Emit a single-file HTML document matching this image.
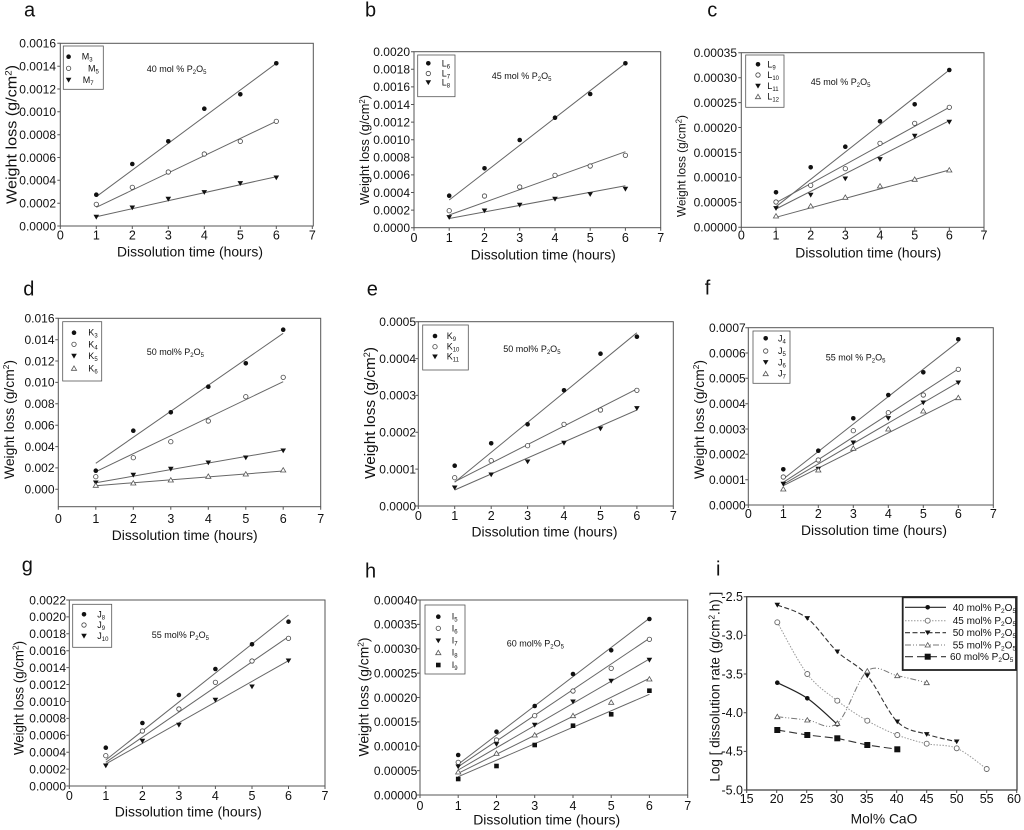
<!DOCTYPE html>
<html><head><meta charset="utf-8"><style>
html,body{margin:0;padding:0;background:#fff;}
svg{display:block;font-family:"Liberation Sans",Arial,sans-serif;}
</style></head><body>
<svg width="1024" height="830" viewBox="0 0 1024 830" xmlns="http://www.w3.org/2000/svg">
<defs>
<circle id="fc" r="2.3" fill="#111"/>
<circle id="oc" r="2.2" fill="#fff" stroke="#444" stroke-width="0.8"/>
<path id="ft" d="M-2.8,-2.2L2.8,-2.2L0,2.6Z" fill="#111"/>
<path id="ot" d="M-2.6,2L2.6,2L0,-2.4Z" fill="#fff" stroke="#555" stroke-width="0.8"/>
<rect id="fs" x="-2.3" y="-2.3" width="4.6" height="4.6" fill="#111"/>
<rect id="fs2" x="-3" y="-3" width="6" height="6" fill="#111"/>
<circle id="oc2" r="2.5" fill="#fff" stroke="#666" stroke-width="0.9"/>
</defs>
<rect width="1024" height="830" fill="#fff"/>

<!-- ===== Panel a ===== -->
<g>
<text x="24" y="16.7" font-size="20" fill="#111">a</text>
<rect x="60.3" y="43.3" width="253" height="182.7" fill="none" stroke="#555" stroke-width="1"/>
<path d="M60.3,226v3M96.3,226v3M132.3,226v3M168.3,226v3M204.3,226v3M240.3,226v3M276.3,226v3M312.3,226v3M57.3,226h3M57.3,203.2h3M57.3,180.3h3M57.3,157.5h3M57.3,134.7h3M57.3,111.8h3M57.3,89h3M57.3,66.2h3M57.3,43.3h3" stroke="#555" stroke-width="1"/>
<g font-size="12" fill="#111" text-anchor="end">
<text x="56" y="230.3">0.0000</text><text x="56" y="207.5">0.0002</text><text x="56" y="184.6">0.0004</text><text x="56" y="161.8">0.0006</text><text x="56" y="139">0.0008</text><text x="56" y="116.1">0.0010</text><text x="56" y="93.3">0.0012</text><text x="56" y="70.5">0.0014</text><text x="56" y="47.6">0.0016</text>
</g>
<g font-size="12.5" fill="#111" text-anchor="middle">
<text x="60.3" y="239.5">0</text><text x="96.3" y="239.5">1</text><text x="132.3" y="239.5">2</text><text x="168.3" y="239.5">3</text><text x="204.3" y="239.5">4</text><text x="240.3" y="239.5">5</text><text x="276.3" y="239.5">6</text><text x="312.3" y="239.5">7</text>
</g>
<text x="190" y="256.7" font-size="14" fill="#111" text-anchor="middle" textLength="146" lengthAdjust="spacingAndGlyphs">Dissolution time (hours)</text>
<text transform="translate(16.3,134.5) rotate(-90)" font-size="15" fill="#111" text-anchor="middle" textLength="139" lengthAdjust="spacingAndGlyphs">Weight loss (g/cm<tspan font-size="9" dy="-5">2</tspan><tspan dy="5">)</tspan></text>
<g stroke="#666" stroke-width="1">
<line x1="96.3" y1="196.7" x2="276.3" y2="63.3"/><line x1="96.3" y1="207.3" x2="276.3" y2="121.3"/><line x1="96.3" y1="216.7" x2="276.3" y2="176.7"/>
</g>
<use href="#fc" x="96.3" y="194.7"/><use href="#fc" x="132.3" y="164"/><use href="#fc" x="168.3" y="141.3"/><use href="#fc" x="204.3" y="108.7"/><use href="#fc" x="240.3" y="94.3"/><use href="#fc" x="276.3" y="63.3"/>
<use href="#oc" x="96.3" y="204.3"/><use href="#oc" x="132.3" y="187.3"/><use href="#oc" x="168.3" y="172"/><use href="#oc" x="204.3" y="154"/><use href="#oc" x="240.3" y="141.3"/><use href="#oc" x="276.3" y="121.3"/>
<use href="#ft" x="96.3" y="217"/><use href="#ft" x="132.3" y="207.7"/><use href="#ft" x="168.3" y="199"/><use href="#ft" x="204.3" y="192.3"/><use href="#ft" x="240.3" y="183.3"/><use href="#ft" x="276.3" y="177.7"/>
<rect x="63.3" y="46" width="40" height="43.3" fill="#fff" stroke="#555" stroke-width="0.8"/>
<use href="#fc" x="68.6" y="56.7"/><use href="#oc" x="68.6" y="68.3"/><use href="#ft" x="68.6" y="80"/>
<g font-size="9" fill="#111">
<text x="81.7" y="59.7">M<tspan font-size="6" dy="2">3</tspan></text>
<text x="88" y="71.3">M<tspan font-size="6" dy="2">5</tspan></text>
<text x="82.7" y="83">M<tspan font-size="6" dy="2">7</tspan></text>
<text x="146.7" y="72">40 mol % P<tspan font-size="6" dy="2">2</tspan><tspan dy="-2">O</tspan><tspan font-size="6" dy="2">5</tspan></text>
</g>
</g>

<!-- ===== Panel b ===== -->
<g>
<text x="365" y="16.7" font-size="20" fill="#111">b</text>
<rect x="414" y="51.7" width="246.7" height="176" fill="none" stroke="#555" stroke-width="1"/>
<path d="M414,227.7v3M449.2,227.7v3M484.5,227.7v3M519.7,227.7v3M555,227.7v3M590.2,227.7v3M625.4,227.7v3M660.7,227.7v3M411,227.7h3M411,210.1h3M411,192.5h3M411,174.9h3M411,157.3h3M411,139.7h3M411,122.1h3M411,104.5h3M411,86.9h3M411,69.3h3M411,51.7h3" stroke="#555" stroke-width="1"/>
<g font-size="12" fill="#111" text-anchor="end">
<text x="410" y="232">0.0000</text><text x="410" y="214.4">0.0002</text><text x="410" y="196.8">0.0004</text><text x="410" y="179.2">0.0006</text><text x="410" y="161.6">0.0008</text><text x="410" y="144">0.0010</text><text x="410" y="126.4">0.0012</text><text x="410" y="108.8">0.0014</text><text x="410" y="91.2">0.0016</text><text x="410" y="73.6">0.0018</text><text x="410" y="56">0.0020</text>
</g>
<g font-size="12.5" fill="#111" text-anchor="middle">
<text x="414" y="242">0</text><text x="449.2" y="242">1</text><text x="484.5" y="242">2</text><text x="519.7" y="242">3</text><text x="555" y="242">4</text><text x="590.2" y="242">5</text><text x="625.4" y="242">6</text><text x="660.7" y="242">7</text>
</g>
<text x="543.3" y="259.5" font-size="14" fill="#111" text-anchor="middle" textLength="145" lengthAdjust="spacingAndGlyphs">Dissolution time (hours)</text>
<text transform="translate(369,150) rotate(-90)" font-size="13" fill="#111" text-anchor="middle" textLength="110" lengthAdjust="spacingAndGlyphs">Weight loss (g/cm<tspan font-size="8" dy="-4">2</tspan><tspan dy="4">)</tspan></text>
<g stroke="#666" stroke-width="1">
<line x1="449.2" y1="200" x2="625.4" y2="63.3"/><line x1="449.2" y1="215" x2="625.4" y2="151.7"/><line x1="449.2" y1="218.5" x2="625.4" y2="185.7"/>
</g>
<use href="#fc" x="449.2" y="195.7"/><use href="#fc" x="484.5" y="168.3"/><use href="#fc" x="519.7" y="140"/><use href="#fc" x="555" y="117.7"/><use href="#fc" x="590.2" y="94"/><use href="#fc" x="625.4" y="63.3"/>
<use href="#oc" x="449.2" y="210.7"/><use href="#oc" x="484.5" y="196"/><use href="#oc" x="519.7" y="187"/><use href="#oc" x="555" y="175.3"/><use href="#oc" x="590.2" y="166"/><use href="#oc" x="625.4" y="155.3"/>
<use href="#ft" x="449.2" y="217.3"/><use href="#ft" x="484.5" y="210.7"/><use href="#ft" x="519.7" y="205"/><use href="#ft" x="555" y="199"/><use href="#ft" x="590.2" y="194.3"/><use href="#ft" x="625.4" y="189"/>
<rect x="417.7" y="55" width="37.3" height="41.7" fill="#fff" stroke="#555" stroke-width="0.8"/>
<use href="#fc" x="428.3" y="63.3"/><use href="#oc" x="428.3" y="73.5"/><use href="#ft" x="428.3" y="82.5"/>
<g font-size="9" fill="#111">
<text x="441.7" y="66.3">L<tspan font-size="6" dy="2">6</tspan></text>
<text x="441.7" y="76.5">L<tspan font-size="6" dy="2">7</tspan></text>
<text x="441.7" y="85.5">L<tspan font-size="6" dy="2">8</tspan></text>
<text x="491.7" y="79">45 mol % P<tspan font-size="6" dy="2">2</tspan><tspan dy="-2">O</tspan><tspan font-size="6" dy="2">5</tspan></text>
</g>
</g>

<!-- ===== Panel c ===== -->
<g>
<text x="707.3" y="16.7" font-size="20" fill="#111">c</text>
<rect x="741.3" y="52.7" width="242.7" height="174.6" fill="none" stroke="#555" stroke-width="1"/>
<path d="M741.3,227.3v3M776,227.3v3M810.7,227.3v3M845.3,227.3v3M880,227.3v3M914.7,227.3v3M949.3,227.3v3M984,227.3v3M738.3,227.3h3M738.3,202.4h3M738.3,177.4h3M738.3,152.5h3M738.3,127.5h3M738.3,102.6h3M738.3,77.7h3M738.3,52.7h3" stroke="#555" stroke-width="1"/>
<g font-size="12" fill="#111" text-anchor="end">
<text x="737" y="231.6">0.00000</text><text x="737" y="206.7">0.00005</text><text x="737" y="181.7">0.00010</text><text x="737" y="156.8">0.00015</text><text x="737" y="131.8">0.00020</text><text x="737" y="106.9">0.00025</text><text x="737" y="82">0.00030</text><text x="737" y="57">0.00035</text>
</g>
<g font-size="12.5" fill="#111" text-anchor="middle">
<text x="741.3" y="239.3">0</text><text x="776" y="239.3">1</text><text x="810.7" y="239.3">2</text><text x="845.3" y="239.3">3</text><text x="880" y="239.3">4</text><text x="914.7" y="239.3">5</text><text x="949.3" y="239.3">6</text><text x="984" y="239.3">7</text>
</g>
<text x="868.3" y="257.3" font-size="14" fill="#111" text-anchor="middle" textLength="146" lengthAdjust="spacingAndGlyphs">Dissolution time (hours)</text>
<text transform="translate(685.5,166) rotate(-90)" font-size="12" fill="#111" text-anchor="middle" textLength="102" lengthAdjust="spacingAndGlyphs">Weight loss (g/cm<tspan font-size="8" dy="-4">2</tspan><tspan dy="4">)</tspan></text>
<g stroke="#666" stroke-width="1">
<line x1="776" y1="206.7" x2="949.3" y2="70"/><line x1="776" y1="202.7" x2="949.3" y2="107.3"/><line x1="776" y1="209" x2="949.3" y2="120.7"/><line x1="776" y1="217.3" x2="949.3" y2="170"/>
</g>
<use href="#fc" x="776" y="192.3"/><use href="#fc" x="810.7" y="167.3"/><use href="#fc" x="845.3" y="146.7"/><use href="#fc" x="880" y="121.3"/><use href="#fc" x="914.7" y="104.3"/><use href="#fc" x="949.3" y="70"/>
<use href="#oc" x="776" y="202"/><use href="#oc" x="810.7" y="185.3"/><use href="#oc" x="845.3" y="168.7"/><use href="#oc" x="880" y="143.3"/><use href="#oc" x="914.7" y="123.3"/><use href="#oc" x="949.3" y="107.3"/>
<use href="#ft" x="776" y="208.3"/><use href="#ft" x="810.7" y="195"/><use href="#ft" x="845.3" y="178.7"/><use href="#ft" x="880" y="159.3"/><use href="#ft" x="914.7" y="136"/><use href="#ft" x="949.3" y="122"/>
<use href="#ot" x="776" y="216"/><use href="#ot" x="810.7" y="206"/><use href="#ot" x="845.3" y="197.3"/><use href="#ot" x="880" y="186"/><use href="#ot" x="914.7" y="179.3"/><use href="#ot" x="949.3" y="170"/>
<rect x="745.7" y="55" width="38.3" height="52.3" fill="#fff" stroke="#555" stroke-width="0.8"/>
<use href="#fc" x="758" y="64.3"/><use href="#oc" x="758" y="75"/><use href="#ft" x="758" y="86"/><use href="#ot" x="758" y="96.7"/>
<g font-size="9" fill="#111">
<text x="767.3" y="67.3">L<tspan font-size="6" dy="2">9</tspan></text>
<text x="767.3" y="78">L<tspan font-size="6" dy="2">10</tspan></text>
<text x="767.3" y="89">L<tspan font-size="6" dy="2">11</tspan></text>
<text x="767.3" y="99.7">L<tspan font-size="6" dy="2">12</tspan></text>
<text x="810.7" y="85">45 mol % P<tspan font-size="6" dy="2">2</tspan><tspan dy="-2">O</tspan><tspan font-size="6" dy="2">5</tspan></text>
</g>
</g>

<!-- ===== Panel d ===== -->
<g>
<text x="23.3" y="295.7" font-size="20" fill="#111">d</text>
<rect x="58.3" y="318.3" width="262.4" height="188.4" fill="none" stroke="#555" stroke-width="1"/>
<path d="M58.3,506.7v3M95.8,506.7v3M133.3,506.7v3M170.8,506.7v3M208.3,506.7v3M245.8,506.7v3M283.2,506.7v3M320.7,506.7v3M55.3,489.3h3M55.3,467.9h3M55.3,446.6h3M55.3,425.2h3M55.3,403.8h3M55.3,382.4h3M55.3,361h3M55.3,339.7h3M55.3,318.3h3" stroke="#555" stroke-width="1"/>
<g font-size="12" fill="#111" text-anchor="end">
<text x="54.5" y="493.6">0.000</text><text x="54.5" y="472.2">0.002</text><text x="54.5" y="450.9">0.004</text><text x="54.5" y="429.5">0.006</text><text x="54.5" y="408.1">0.008</text><text x="54.5" y="386.7">0.010</text><text x="54.5" y="365.3">0.012</text><text x="54.5" y="344">0.014</text><text x="54.5" y="322.6">0.016</text>
</g>
<g font-size="12.5" fill="#111" text-anchor="middle">
<text x="58.3" y="523">0</text><text x="95.8" y="523">1</text><text x="133.3" y="523">2</text><text x="170.8" y="523">3</text><text x="208.3" y="523">4</text><text x="245.8" y="523">5</text><text x="283.2" y="523">6</text><text x="320.7" y="523">7</text>
</g>
<text x="184.7" y="540" font-size="14" fill="#111" text-anchor="middle" textLength="146" lengthAdjust="spacingAndGlyphs">Dissolution time (hours)</text>
<text transform="translate(14,419.5) rotate(-90)" font-size="14" fill="#111" text-anchor="middle" textLength="119" lengthAdjust="spacingAndGlyphs">Weight loss (g/cm<tspan font-size="8.5" dy="-5">2</tspan><tspan dy="5">)</tspan></text>
<g stroke="#666" stroke-width="1">
<line x1="95.8" y1="463.3" x2="283.2" y2="333.3"/><line x1="95.8" y1="471.7" x2="283.2" y2="381.7"/><line x1="95.8" y1="482.7" x2="283.2" y2="450"/><line x1="95.8" y1="485.7" x2="283.2" y2="471"/>
</g>
<use href="#fc" x="95.8" y="470.7"/><use href="#fc" x="133.3" y="430.7"/><use href="#fc" x="170.8" y="412.3"/><use href="#fc" x="208.3" y="386.7"/><use href="#fc" x="245.8" y="363.3"/><use href="#fc" x="283.2" y="329.7"/>
<use href="#oc" x="95.8" y="476.7"/><use href="#oc" x="133.3" y="457.7"/><use href="#oc" x="170.8" y="441.7"/><use href="#oc" x="208.3" y="421"/><use href="#oc" x="245.8" y="396.7"/><use href="#oc" x="283.2" y="377.3"/>
<use href="#ft" x="95.8" y="482.7"/><use href="#ft" x="133.3" y="475"/><use href="#ft" x="170.8" y="469"/><use href="#ft" x="208.3" y="462.7"/><use href="#ft" x="245.8" y="457.7"/><use href="#ft" x="283.2" y="450.7"/>
<use href="#ot" x="95.8" y="485.3"/><use href="#ot" x="133.3" y="483"/><use href="#ot" x="170.8" y="480"/><use href="#ot" x="208.3" y="476.3"/><use href="#ot" x="245.8" y="474"/><use href="#ot" x="283.2" y="470"/>
<rect x="62.7" y="321.7" width="39" height="59.3" fill="#fff" stroke="#555" stroke-width="0.8"/>
<use href="#fc" x="74" y="332.7"/><use href="#oc" x="74" y="344.3"/><use href="#ft" x="74" y="356"/><use href="#ot" x="74" y="368.3"/>
<g font-size="9" fill="#111">
<text x="88.3" y="335.7">K<tspan font-size="6" dy="2">3</tspan></text>
<text x="88.3" y="347.3">K<tspan font-size="6" dy="2">4</tspan></text>
<text x="88.3" y="359">K<tspan font-size="6" dy="2">5</tspan></text>
<text x="88.3" y="371.3">K<tspan font-size="6" dy="2">6</tspan></text>
<text x="146.7" y="355">50 mol% P<tspan font-size="6" dy="2">2</tspan><tspan dy="-2">O</tspan><tspan font-size="6" dy="2">5</tspan></text>
</g>
</g>

<!-- ===== Panel e ===== -->
<g>
<text x="366.7" y="295.7" font-size="20" fill="#111">e</text>
<rect x="418.3" y="321.7" width="255" height="184.3" fill="none" stroke="#555" stroke-width="1"/>
<path d="M418.3,506v3M454.7,506v3M491.2,506v3M527.6,506v3M564,506v3M600.5,506v3M636.9,506v3M673.3,506v3M415.3,506h3M415.3,469.1h3M415.3,432.3h3M415.3,395.4h3M415.3,358.6h3M415.3,321.7h3" stroke="#555" stroke-width="1"/>
<g font-size="12" fill="#111" text-anchor="end">
<text x="416" y="510.3">0.0000</text><text x="416" y="473.4">0.0001</text><text x="416" y="436.6">0.0002</text><text x="416" y="399.7">0.0003</text><text x="416" y="362.9">0.0004</text><text x="416" y="326">0.0005</text>
</g>
<g font-size="12.5" fill="#111" text-anchor="middle">
<text x="418.3" y="520">0</text><text x="454.7" y="520">1</text><text x="491.2" y="520">2</text><text x="527.6" y="520">3</text><text x="564" y="520">4</text><text x="600.5" y="520">5</text><text x="636.9" y="520">6</text><text x="673.3" y="520">7</text>
</g>
<text x="544.5" y="536.7" font-size="14" fill="#111" text-anchor="middle" textLength="146" lengthAdjust="spacingAndGlyphs">Dissolution time (hours)</text>
<text transform="translate(375,413) rotate(-90)" font-size="15" fill="#111" text-anchor="middle" textLength="132" lengthAdjust="spacingAndGlyphs">Weight loss (g/cm<tspan font-size="9" dy="-5">2</tspan><tspan dy="5">)</tspan></text>
<g stroke="#666" stroke-width="1">
<line x1="454.7" y1="482.3" x2="636.9" y2="332.7"/><line x1="454.7" y1="481.7" x2="636.9" y2="389"/><line x1="454.7" y1="490" x2="636.9" y2="410"/>
</g>
<use href="#fc" x="454.7" y="465.7"/><use href="#fc" x="491.2" y="443.3"/><use href="#fc" x="527.6" y="424.3"/><use href="#fc" x="564" y="390.3"/><use href="#fc" x="600.5" y="353.7"/><use href="#fc" x="636.9" y="336.7"/>
<use href="#oc" x="454.7" y="477.7"/><use href="#oc" x="491.2" y="460.7"/><use href="#oc" x="527.6" y="445.7"/><use href="#oc" x="564" y="424.3"/><use href="#oc" x="600.5" y="410"/><use href="#oc" x="636.9" y="390.3"/>
<use href="#ft" x="454.7" y="487.7"/><use href="#ft" x="491.2" y="474.7"/><use href="#ft" x="527.6" y="461.7"/><use href="#ft" x="564" y="443"/><use href="#ft" x="600.5" y="428.7"/><use href="#ft" x="636.9" y="408.3"/>
<rect x="422.7" y="325" width="45.6" height="45" fill="#fff" stroke="#555" stroke-width="0.8"/>
<use href="#fc" x="435" y="336"/><use href="#oc" x="435" y="346.7"/><use href="#ft" x="435" y="356.7"/>
<g font-size="9" fill="#111">
<text x="446.7" y="339">K<tspan font-size="6" dy="2">9</tspan></text>
<text x="446.7" y="349.7">K<tspan font-size="6" dy="2">10</tspan></text>
<text x="446.7" y="359.7">K<tspan font-size="6" dy="2">11</tspan></text>
<text x="503.3" y="352">50 mol% P<tspan font-size="6" dy="2">2</tspan><tspan dy="-2">O</tspan><tspan font-size="6" dy="2">5</tspan></text>
</g>
</g>

<!-- ===== Panel f ===== -->
<g>
<text x="704.7" y="294.3" font-size="20" fill="#111">f</text>
<rect x="748.3" y="327.7" width="245" height="177.3" fill="none" stroke="#555" stroke-width="1"/>
<path d="M748.3,505v3M783.3,505v3M818.3,505v3M853.3,505v3M888.3,505v3M923.3,505v3M958.3,505v3M993.3,505v3M745.3,505h3M745.3,479.7h3M745.3,454.3h3M745.3,429h3M745.3,403.7h3M745.3,378.3h3M745.3,353h3M745.3,327.7h3" stroke="#555" stroke-width="1"/>
<g font-size="12" fill="#111" text-anchor="end">
<text x="745.7" y="509.3">0.0000</text><text x="745.7" y="484">0.0001</text><text x="745.7" y="458.6">0.0002</text><text x="745.7" y="433.3">0.0003</text><text x="745.7" y="408">0.0004</text><text x="745.7" y="382.6">0.0005</text><text x="745.7" y="357.3">0.0006</text><text x="745.7" y="332">0.0007</text>
</g>
<g font-size="12.5" fill="#111" text-anchor="middle">
<text x="748.3" y="518">0</text><text x="783.3" y="518">1</text><text x="818.3" y="518">2</text><text x="853.3" y="518">3</text><text x="888.3" y="518">4</text><text x="923.3" y="518">5</text><text x="958.3" y="518">6</text><text x="993.3" y="518">7</text>
</g>
<text x="874" y="535" font-size="14" fill="#111" text-anchor="middle" textLength="146" lengthAdjust="spacingAndGlyphs">Dissolution time (hours)</text>
<text transform="translate(704,419.5) rotate(-90)" font-size="14" fill="#111" text-anchor="middle" textLength="119" lengthAdjust="spacingAndGlyphs">Weight loss (g/cm<tspan font-size="8.5" dy="-5">2</tspan><tspan dy="5">)</tspan></text>
<g stroke="#666" stroke-width="1">
<line x1="783.3" y1="479" x2="958.3" y2="341.7"/><line x1="783.3" y1="482.3" x2="958.3" y2="369"/><line x1="783.3" y1="484.3" x2="958.3" y2="382.3"/><line x1="783.3" y1="485.7" x2="958.3" y2="397.7"/>
</g>
<use href="#fc" x="783.3" y="469.3"/><use href="#fc" x="818.3" y="450.7"/><use href="#fc" x="853.3" y="418.3"/><use href="#fc" x="888.3" y="395"/><use href="#fc" x="923.3" y="372.3"/><use href="#fc" x="958.3" y="339.3"/>
<use href="#oc" x="783.3" y="477"/><use href="#oc" x="818.3" y="460"/><use href="#oc" x="853.3" y="430.7"/><use href="#oc" x="888.3" y="412.7"/><use href="#oc" x="923.3" y="395"/><use href="#oc" x="958.3" y="369.3"/>
<use href="#ft" x="783.3" y="484"/><use href="#ft" x="818.3" y="469"/><use href="#ft" x="853.3" y="442.7"/><use href="#ft" x="888.3" y="418.3"/><use href="#ft" x="923.3" y="402.7"/><use href="#ft" x="958.3" y="382.7"/>
<use href="#ot" x="783.3" y="489"/><use href="#ot" x="818.3" y="470"/><use href="#ot" x="853.3" y="448.3"/><use href="#ot" x="888.3" y="429"/><use href="#ot" x="923.3" y="411"/><use href="#ot" x="958.3" y="397.7"/>
<rect x="753" y="331" width="37" height="52.3" fill="#fff" stroke="#555" stroke-width="0.8"/>
<use href="#fc" x="765.7" y="338.3"/><use href="#oc" x="765.7" y="351"/><use href="#ft" x="765.7" y="362.3"/><use href="#ot" x="765.7" y="373.7"/>
<g font-size="9" fill="#111">
<text x="778" y="341.3">J<tspan font-size="6" dy="2">4</tspan></text>
<text x="778" y="354">J<tspan font-size="6" dy="2">5</tspan></text>
<text x="778" y="365.3">J<tspan font-size="6" dy="2">6</tspan></text>
<text x="778" y="376.7">J<tspan font-size="6" dy="2">7</tspan></text>
<text x="825.7" y="360.7">55 mol % P<tspan font-size="6" dy="2">2</tspan><tspan dy="-2">O</tspan><tspan font-size="6" dy="2">5</tspan></text>
</g>
</g>

<!-- ===== Panel g ===== -->
<g>
<text x="21.7" y="571.7" font-size="20" fill="#111">g</text>
<rect x="69.3" y="600" width="255.7" height="186" fill="none" stroke="#555" stroke-width="1"/>
<path d="M69.3,786v3M105.8,786v3M142.4,786v3M178.9,786v3M215.4,786v3M252,786v3M288.5,786v3M325,786v3M66.3,786h3M66.3,769.1h3M66.3,752.2h3M66.3,735.3h3M66.3,718.4h3M66.3,701.5h3M66.3,684.5h3M66.3,667.6h3M66.3,650.7h3M66.3,633.8h3M66.3,616.9h3M66.3,600h3" stroke="#555" stroke-width="1"/>
<g font-size="12" fill="#111" text-anchor="end">
<text x="66" y="790.3">0.0000</text><text x="66" y="773.4">0.0002</text><text x="66" y="756.5">0.0004</text><text x="66" y="739.6">0.0006</text><text x="66" y="722.7">0.0008</text><text x="66" y="705.8">0.0010</text><text x="66" y="688.8">0.0012</text><text x="66" y="671.9">0.0014</text><text x="66" y="655">0.0016</text><text x="66" y="638.1">0.0018</text><text x="66" y="621.2">0.0020</text><text x="66" y="604.3">0.0022</text>
</g>
<g font-size="12.5" fill="#111" text-anchor="middle">
<text x="69.3" y="800">0</text><text x="105.8" y="800">1</text><text x="142.4" y="800">2</text><text x="178.9" y="800">3</text><text x="215.4" y="800">4</text><text x="252" y="800">5</text><text x="288.5" y="800">6</text><text x="325" y="800">7</text>
</g>
<text x="188.3" y="816.7" font-size="14" fill="#111" text-anchor="middle" textLength="147" lengthAdjust="spacingAndGlyphs">Dissolution time (hours)</text>
<text transform="translate(23.5,698) rotate(-90)" font-size="13.5" fill="#111" text-anchor="middle" textLength="114" lengthAdjust="spacingAndGlyphs">Weight loss (g/cm<tspan font-size="8.5" dy="-5">2</tspan><tspan dy="5">)</tspan></text>
<g stroke="#666" stroke-width="1">
<line x1="105.8" y1="760" x2="288.5" y2="615"/><line x1="105.8" y1="762.3" x2="288.5" y2="636.7"/><line x1="105.8" y1="764" x2="288.5" y2="660.7"/>
</g>
<use href="#fc" x="105.8" y="747.7"/><use href="#fc" x="142.4" y="723"/><use href="#fc" x="178.9" y="695"/><use href="#fc" x="215.4" y="669"/><use href="#fc" x="252" y="644.3"/><use href="#fc" x="288.5" y="621.7"/>
<use href="#oc" x="105.8" y="755.7"/><use href="#oc" x="142.4" y="731"/><use href="#oc" x="178.9" y="709"/><use href="#oc" x="215.4" y="682.3"/><use href="#oc" x="252" y="661"/><use href="#oc" x="288.5" y="638.3"/>
<use href="#ft" x="105.8" y="765.7"/><use href="#ft" x="142.4" y="741"/><use href="#ft" x="178.9" y="725"/><use href="#ft" x="215.4" y="700"/><use href="#ft" x="252" y="686.7"/><use href="#ft" x="288.5" y="660.7"/>
<rect x="72.7" y="604.3" width="39" height="43" fill="#fff" stroke="#555" stroke-width="0.8"/>
<use href="#fc" x="84" y="614.3"/><use href="#oc" x="84" y="625"/><use href="#ft" x="84" y="636"/>
<g font-size="9" fill="#111">
<text x="97.3" y="617.3">J<tspan font-size="6" dy="2">8</tspan></text>
<text x="97.3" y="628">J<tspan font-size="6" dy="2">9</tspan></text>
<text x="97.3" y="639">J<tspan font-size="6" dy="2">10</tspan></text>
<text x="151.7" y="638">55 mol% P<tspan font-size="6" dy="2">2</tspan><tspan dy="-2">O</tspan><tspan font-size="6" dy="2">5</tspan></text>
</g>
</g>

<!-- ===== Panel h ===== -->
<g>
<text x="365" y="577.7" font-size="20" fill="#111">h</text>
<rect x="420" y="600" width="267.7" height="195" fill="none" stroke="#555" stroke-width="1"/>
<path d="M420,795v3M458.2,795v3M496.5,795v3M534.7,795v3M573,795v3M611.2,795v3M649.4,795v3M687.7,795v3M417,795h3M417,770.6h3M417,746.3h3M417,721.9h3M417,697.5h3M417,673.1h3M417,648.8h3M417,624.4h3M417,600h3" stroke="#555" stroke-width="1"/>
<g font-size="12" fill="#111" text-anchor="end">
<text x="417.3" y="799.3">0.00000</text><text x="417.3" y="774.9">0.00005</text><text x="417.3" y="750.6">0.00010</text><text x="417.3" y="726.2">0.00015</text><text x="417.3" y="701.8">0.00020</text><text x="417.3" y="677.4">0.00025</text><text x="417.3" y="653.1">0.00030</text><text x="417.3" y="628.7">0.00035</text><text x="417.3" y="604.3">0.00040</text>
</g>
<g font-size="12.5" fill="#111" text-anchor="middle">
<text x="420" y="810">0</text><text x="458.2" y="810">1</text><text x="496.5" y="810">2</text><text x="534.7" y="810">3</text><text x="573" y="810">4</text><text x="611.2" y="810">5</text><text x="649.4" y="810">6</text><text x="687.7" y="810">7</text>
</g>
<text x="546.7" y="824.3" font-size="14" fill="#111" text-anchor="middle" textLength="147" lengthAdjust="spacingAndGlyphs">Dissolution time (hours)</text>
<text transform="translate(368.5,697) rotate(-90)" font-size="14" fill="#111" text-anchor="middle" textLength="119" lengthAdjust="spacingAndGlyphs">Weight loss (g/cm<tspan font-size="8.5" dy="-5">2</tspan><tspan dy="5">)</tspan></text>
<g stroke="#666" stroke-width="1">
<line x1="458.2" y1="764.3" x2="649.4" y2="618.3"/><line x1="458.2" y1="766.7" x2="649.4" y2="638.3"/><line x1="458.2" y1="770" x2="649.4" y2="659"/><line x1="458.2" y1="773.3" x2="649.4" y2="678.3"/><line x1="458.2" y1="776.7" x2="649.4" y2="694.3"/>
</g>
<use href="#fc" x="458.2" y="755"/><use href="#fc" x="496.5" y="731.7"/><use href="#fc" x="534.7" y="706"/><use href="#fc" x="573" y="674"/><use href="#fc" x="611.2" y="650.3"/><use href="#fc" x="649.4" y="619"/>
<use href="#oc" x="458.2" y="762.3"/><use href="#oc" x="496.5" y="740"/><use href="#oc" x="534.7" y="715.7"/><use href="#oc" x="573" y="691"/><use href="#oc" x="611.2" y="668.3"/><use href="#oc" x="649.4" y="639.3"/>
<use href="#ft" x="458.2" y="766.7"/><use href="#ft" x="496.5" y="744.3"/><use href="#ft" x="534.7" y="725"/><use href="#ft" x="573" y="701.7"/><use href="#ft" x="611.2" y="681"/><use href="#ft" x="649.4" y="660"/>
<use href="#ot" x="458.2" y="772"/><use href="#ot" x="496.5" y="753.3"/><use href="#ot" x="534.7" y="735"/><use href="#ot" x="573" y="715.7"/><use href="#ot" x="611.2" y="702.3"/><use href="#ot" x="649.4" y="679"/>
<use href="#fs" x="458.2" y="779"/><use href="#fs" x="496.5" y="766"/><use href="#fs" x="534.7" y="745"/><use href="#fs" x="573" y="725.7"/><use href="#fs" x="611.2" y="714.3"/><use href="#fs" x="649.4" y="690.7"/>
<rect x="425" y="605" width="40" height="69" fill="#fff" stroke="#555" stroke-width="0.8"/>
<use href="#fc" x="438.3" y="616.7"/><use href="#oc" x="438.3" y="628.3"/><use href="#ft" x="438.3" y="640.7"/><use href="#ot" x="438.3" y="652.7"/><use href="#fs" x="438.3" y="665"/>
<g font-size="9" fill="#111">
<text x="451.7" y="619.7">I<tspan font-size="6" dy="2">5</tspan></text>
<text x="451.7" y="631.3">I<tspan font-size="6" dy="2">6</tspan></text>
<text x="451.7" y="643.7">I<tspan font-size="6" dy="2">7</tspan></text>
<text x="451.7" y="655.7">I<tspan font-size="6" dy="2">8</tspan></text>
<text x="451.7" y="668">I<tspan font-size="6" dy="2">9</tspan></text>
<text x="506.7" y="646.3">60 mol% P<tspan font-size="6" dy="2">2</tspan><tspan dy="-2">O</tspan><tspan font-size="6" dy="2">5</tspan></text>
</g>
</g>

<!-- ===== Panel i ===== -->
<g>
<text x="716" y="575.7" font-size="20" fill="#111">i</text>
<rect x="746.7" y="596.7" width="270.3" height="193.3" fill="none" stroke="#444" stroke-width="1.3"/>
<path d="M746.7,790v3M776.7,790v3M806.7,790v3M836.7,790v3M866.7,790v3M896.7,790v3M926.7,790v3M956.7,790v3M986.7,790v3M1016.7,790v3M743.7,596.7h3M743.7,635.4h3M743.7,674h3M743.7,712.7h3M743.7,751.4h3M743.7,790h3" stroke="#444" stroke-width="1"/>
<g font-size="12.5" fill="#111" text-anchor="end">
<text x="743" y="601">-2.5</text><text x="743" y="639.7">-3.0</text><text x="743" y="678.3">-3.5</text><text x="743" y="717">-4.0</text><text x="743" y="755.7">-4.5</text><text x="743" y="794.3">-5.0</text>
</g>
<g font-size="12.5" fill="#111" text-anchor="middle">
<text x="746.7" y="803">15</text><text x="776.7" y="803">20</text><text x="806.7" y="803">25</text><text x="836.7" y="803">30</text><text x="866.7" y="803">35</text><text x="896.7" y="803">40</text><text x="926.7" y="803">45</text><text x="956.7" y="803">50</text><text x="986.7" y="803">55</text><text x="1014" y="803">60</text>
</g>
<text x="884" y="823.3" font-size="14" fill="#111" text-anchor="middle" textLength="66.7" lengthAdjust="spacingAndGlyphs">Mol% CaO</text>
<text transform="translate(719.5,686.7) rotate(-90)" font-size="14" fill="#111" text-anchor="middle" textLength="190" lengthAdjust="spacingAndGlyphs">Log [ dissolution rate (g/cm<tspan font-size="8.5" dy="-5">2</tspan><tspan dy="5">.h) ]</tspan></text>
<!-- curves -->
<path d="M777.3,682.7 C782.3,685.3 797.3,691.4 807.3,698.3 C817.3,705.2 832.3,720 837.3,724.3" fill="none" stroke="#222" stroke-width="1.2"/>
<path d="M777.3,622.3 C782.3,630.9 797.3,660.9 807.3,674 C817.3,687.1 827.3,692.9 837.3,700.7 C847.3,708.5 857.3,715 867.3,720.7 C877.3,726.4 887.4,731.2 897.3,735 C907.2,738.8 916.8,741.5 926.7,743.7 C936.6,745.9 946.7,744.1 956.7,748.3 C966.7,752.5 981.7,765.5 986.7,769" fill="none" stroke="#999" stroke-width="1" stroke-dasharray="1.5,1.5"/>
<path d="M777.3,605 C782.3,607.2 797.3,610.5 807.3,618.3 C817.3,626.1 827.3,642.1 837.3,651.7 C847.3,661.3 857.3,664 867.3,675.7 C877.3,687.4 887.4,711.9 897.3,721.7 C907.2,731.5 916.8,731 926.7,734.3 C936.6,737.6 951.7,740.5 956.7,741.7" fill="none" stroke="#333" stroke-width="1.1" stroke-dasharray="5,2.5"/>
<path d="M777.3,716.7 C782.3,717.3 797.3,718.9 807.3,720 C817.3,721.1 827.3,731.5 837.3,723.3 C847.3,715.2 857.3,678.9 867.3,671 C877.3,663.1 887.4,673.7 897.3,675.7 C907.2,677.6 921.8,681.5 926.7,682.7" fill="none" stroke="#777" stroke-width="1" stroke-dasharray="6,2,1,2,1,2"/>
<polyline points="777.3,730 807.3,735 837.3,738.3 867.3,745 897.3,749.3" fill="none" stroke="#333" stroke-width="1.1" stroke-dasharray="8,4"/>
<!-- markers -->
<use href="#fc" x="777.3" y="682.7"/><use href="#fc" x="807.3" y="698.3"/><use href="#fc" x="837.3" y="724.3"/>
<use href="#oc2" x="777.3" y="622.3"/><use href="#oc2" x="807.3" y="674"/><use href="#oc2" x="837.3" y="700.7"/><use href="#oc2" x="867.3" y="720.7"/><use href="#oc2" x="897.3" y="735"/><use href="#oc2" x="926.7" y="743.7"/><use href="#oc2" x="956.7" y="748.3"/><use href="#oc2" x="986.7" y="769"/>
<use href="#ft" x="777.3" y="605"/><use href="#ft" x="807.3" y="618.3"/><use href="#ft" x="837.3" y="651.7"/><use href="#ft" x="867.3" y="675.7"/><use href="#ft" x="897.3" y="721.7"/><use href="#ft" x="926.7" y="734.3"/><use href="#ft" x="956.7" y="741.7"/>
<use href="#ot" x="777.3" y="716.7"/><use href="#ot" x="807.3" y="720"/><use href="#ot" x="837.3" y="723.3"/><use href="#ot" x="867.3" y="671"/><use href="#ot" x="897.3" y="675.7"/><use href="#ot" x="926.7" y="682.7"/>
<use href="#fs2" x="777.3" y="730"/><use href="#fs2" x="807.3" y="735"/><use href="#fs2" x="837.3" y="738.3"/><use href="#fs2" x="867.3" y="745"/><use href="#fs2" x="897.3" y="749.3"/>
<!-- legend -->
<rect x="902.7" y="597.3" width="113.3" height="72.7" fill="#fff" stroke="#222" stroke-width="1.8"/>
<line x1="905" y1="607.3" x2="946" y2="607.3" stroke="#222" stroke-width="1.2"/>
<line x1="905" y1="620.7" x2="946" y2="620.7" stroke="#999" stroke-width="1" stroke-dasharray="1.5,1.5"/>
<line x1="905" y1="632.7" x2="946" y2="632.7" stroke="#333" stroke-width="1.1" stroke-dasharray="5,2.5"/>
<line x1="905" y1="645" x2="946" y2="645" stroke="#777" stroke-width="1" stroke-dasharray="6,2,1,2,1,2"/>
<line x1="905" y1="656.7" x2="946" y2="656.7" stroke="#333" stroke-width="1.1" stroke-dasharray="8,4"/>
<use href="#fc" x="927.7" y="607.3"/><use href="#oc2" x="927.7" y="620.7"/><use href="#ft" x="927.7" y="632.7"/><use href="#ot" x="927.7" y="645"/><use href="#fs2" x="927.7" y="656.7"/>
<g font-size="10" fill="#111">
<text x="952.7" y="610.8">40 mol% P<tspan font-size="6.5" dy="2">2</tspan><tspan dy="-2">O</tspan><tspan font-size="6.5" dy="2">5</tspan></text>
<text x="952.7" y="624.2">45 mol% P<tspan font-size="6.5" dy="2">2</tspan><tspan dy="-2">O</tspan><tspan font-size="6.5" dy="2">5</tspan></text>
<text x="952.7" y="636.2">50 mol% P<tspan font-size="6.5" dy="2">2</tspan><tspan dy="-2">O</tspan><tspan font-size="6.5" dy="2">5</tspan></text>
<text x="952.7" y="648.5">55 mol% P<tspan font-size="6.5" dy="2">2</tspan><tspan dy="-2">O</tspan><tspan font-size="6.5" dy="2">5</tspan></text>
<text x="950" y="660.2">60 mol% P<tspan font-size="6.5" dy="2">2</tspan><tspan dy="-2">O</tspan><tspan font-size="6.5" dy="2">5</tspan></text>
</g>
</g>
</svg>
</body></html>
